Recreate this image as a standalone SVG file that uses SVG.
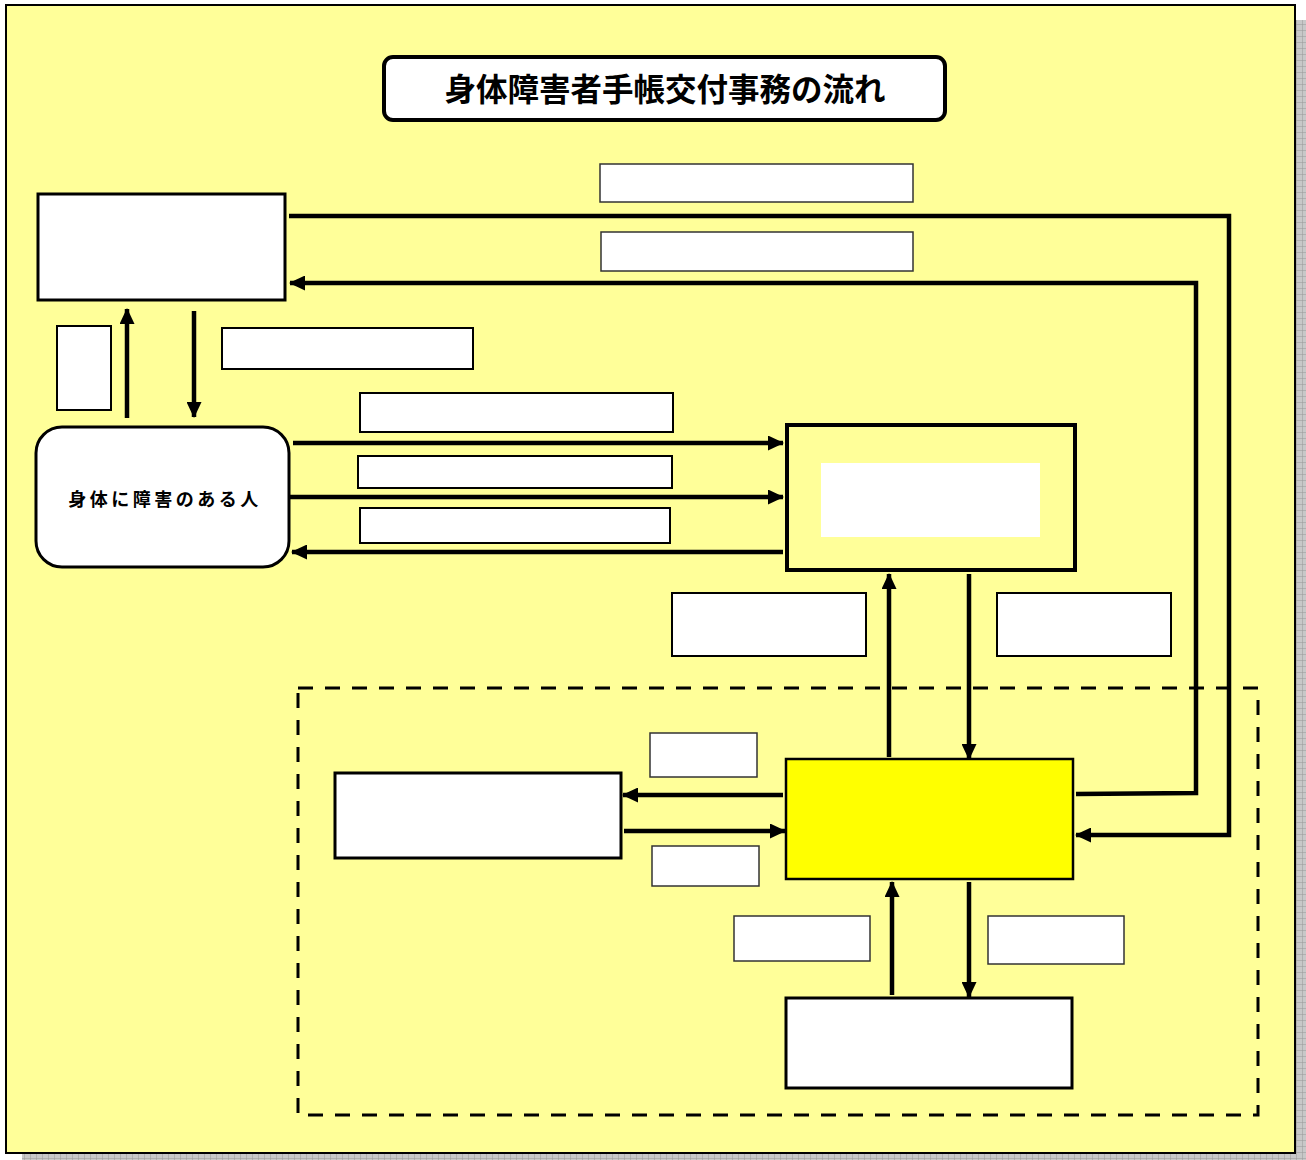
<svg xmlns="http://www.w3.org/2000/svg" width="1306" height="1160" viewBox="0 0 1306 1160">
<style>
.box{fill:#fff;stroke:#000;stroke-width:3}
.lbl{fill:#fff;stroke:#000;stroke-width:2}
.lblt{fill:#fff;stroke:#333;stroke-width:1.5}
.arr{fill:none;stroke:#000;stroke-width:4.5;marker-end:url(#ah)}
.txt{font-family:"Noto Sans CJK JP","Noto Sans CJK SC",sans-serif;font-weight:bold;fill:#000;text-anchor:middle}
</style>
<defs>
<marker id="ah" markerWidth="17" markerHeight="15" refX="15" refY="7.5" orient="auto" markerUnits="userSpaceOnUse">
<path d="M0,0 L16,7.5 L0,15 Z" fill="#000"/>
</marker>
<pattern id="sh" width="6" height="6" patternUnits="userSpaceOnUse">
<rect width="6" height="6" fill="#c8c8c8"/>
<path d="M0,0 H6 M0,0 V6" stroke="#999" stroke-width="1"/>
</pattern>
</defs>
<rect x="0" y="0" width="1306" height="1160" fill="#fff"/>
<rect x="1296" y="20" width="10" height="1140" fill="url(#sh)"/>
<rect x="22" y="1154" width="1284" height="6" fill="url(#sh)"/>
<rect x="6" y="5" width="1289" height="1148" fill="#FFFF99" stroke="#000" stroke-width="2"/>

<g id="title">
<rect x="384" y="57" width="561" height="63" rx="9" fill="#fff" stroke="#000" stroke-width="4"/>
<text class="txt" x="665" y="101" font-size="31.5">身体障害者手帳交付事務の流れ</text>
</g>

<g id="frame">
<rect x="298" y="688" width="960" height="427" fill="none" stroke="#000" stroke-width="3" stroke-dasharray="15 12"/>
</g>

<g id="connectors">
<path class="arr" d="M289,216 H1229 V835 H1076"/>
<path class="arr" d="M1076,794 L1196,793 V283 H290"/>
<path class="arr" d="M127,418 V309"/>
<path class="arr" d="M194,311 V417"/>
<path class="arr" d="M293,443 H783"/>
<path class="arr" d="M290,497 H783"/>
<path class="arr" d="M783,552 H292"/>
<path class="arr" d="M889,757 V574"/>
<path class="arr" d="M969,574 V759"/>
<path class="arr" d="M783,795 H623"/>
<path class="arr" d="M624,831 H785"/>
<path class="arr" d="M892,995 V882"/>
<path class="arr" d="M969,882 V997"/>
</g>

<g id="node-topleft"><rect class="box" x="38" y="194" width="247" height="106"/></g>
<g id="label-side"><rect class="lbl" x="57" y="326" width="54" height="84"/></g>
<g id="label-1"><rect class="lbl" x="222" y="328" width="251" height="41"/></g>
<g id="label-top1"><rect class="lblt" x="600" y="164" width="313" height="38"/></g>
<g id="label-top2"><rect class="lblt" x="601" y="232" width="312" height="39"/></g>

<g id="node-person">
<rect x="36" y="427" width="253" height="140" rx="26" fill="#fff" stroke="#000" stroke-width="3"/>
<text class="txt" x="165" y="506" font-size="18" letter-spacing="3.5">身体に障害のある人</text>
</g>

<g id="label-p1"><rect class="lbl" x="360" y="393" width="313" height="39"/></g>
<g id="label-p2"><rect class="lbl" x="358" y="456" width="314" height="32"/></g>
<g id="label-p3"><rect class="lbl" x="360" y="508" width="310" height="35"/></g>

<g id="node-mid">
<rect x="787" y="425" width="288" height="145" fill="#FFFF99" stroke="#000" stroke-width="4"/>
<rect x="821" y="463" width="219" height="74" fill="#fff"/>
</g>

<g id="label-m1"><rect class="lbl" x="672" y="593" width="194" height="63"/></g>
<g id="label-m2"><rect class="lbl" x="997" y="593" width="174" height="63"/></g>

<g id="node-center">
<rect x="786" y="759" width="287" height="120" fill="#FFFF00" stroke="#000" stroke-width="2.5"/>
</g>

<g id="node-left"><rect class="box" x="335" y="773" width="286" height="85"/></g>
<g id="label-c1"><rect class="lblt" x="650" y="733" width="107" height="44"/></g>
<g id="label-c2"><rect class="lblt" x="652" y="846" width="107" height="40"/></g>
<g id="label-c3"><rect class="lblt" x="734" y="916" width="136" height="45"/></g>
<g id="label-c4"><rect class="lblt" x="988" y="916" width="136" height="48"/></g>

<g id="node-bottom"><rect class="box" x="786" y="998" width="286" height="90"/></g>
</svg>
